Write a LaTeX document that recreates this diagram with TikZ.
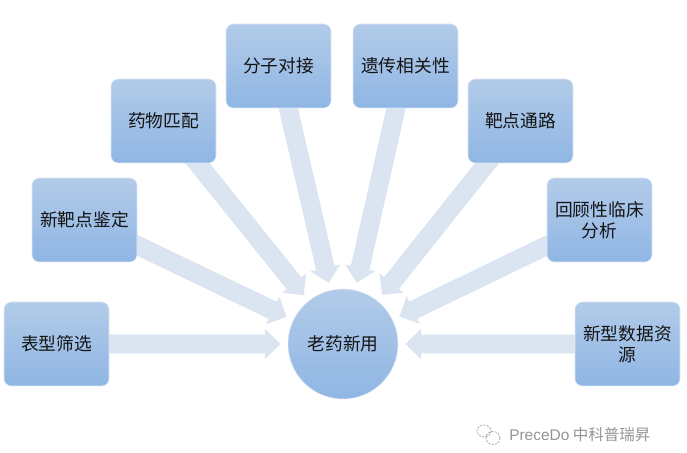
\documentclass[tikz,border=0pt]{standalone}
\usepackage{fontspec}
\setmainfont{Noto Sans CJK SC}
\newfontfamily\latinwm{Liberation Sans}
\usetikzlibrary{calc,backgrounds}
\definecolor{boxtop}{HTML}{B2CBE9}
\definecolor{boxbot}{HTML}{8FB6E4}
\definecolor{arrowcol}{HTML}{DBE5F2}
\tikzset{
  x=0.75pt,y=-0.75pt,
  txt/.style={font=\fontsize{13.3pt}{16pt}\selectfont,text=black!92,align=center},
  topic/.style={txt,rectangle,rounded corners=5.5pt,minimum width=78.75pt,minimum height=63pt,
    text width=72pt,inner sep=0pt,draw=boxtop!40,line width=.4pt,top color=boxtop,bottom color=boxbot},
  hub/.style={txt,circle,minimum size=82.5pt,inner sep=0pt,draw=boxtop!40,line width=.4pt,top color=boxtop,bottom color=boxbot},
  feeder/.style={fill=arrowcol,draw=none},
}
\begin{document}
\begin{tikzpicture}
\useasboundingbox (0,0) rectangle (687,453);
\node[hub] (hub) at (343,344) {老药新用};
\node[topic] (a) at (56.5,344) {表型筛选};
\node[topic] (b) at (84.5,220) {新靶点鉴定};
\node[topic] (c) at (163.5,121) {药物匹配};
\node[topic] (d) at (278.5,66) {分子对接};
\node[topic] (e) at (405.5,66) {遗传相关性};
\node[topic] (f) at (520.5,121) {靶点通路};
\node[topic] (g) at (599.5,220) {回顾性临床\\分析};
\node[topic] (h) at (627.5,344) {新型数据资\\源};
\begin{scope}[on background layer]
\foreach \s in {a,b,c,d,e,f,g,h} {
  \coordinate (tip) at ($(hub)!47pt!(\s)$);
  \coordinate (neck) at ($(hub)!58.5pt!(\s)$);
  \draw[feeder]
    ($(\s)!7.1pt!90:(hub)$) -- ($(neck)!7.1pt!90:(hub)$) -- ($(neck)!11.5pt!90:(hub)$)
    -- (tip) -- ($(neck)!11.5pt!-90:(hub)$) -- ($(neck)!7.1pt!-90:(hub)$)
    -- ($(\s)!7.1pt!-90:(hub)$) -- cycle;
}
\end{scope}
\node[font=\fontsize{11.6pt}{13pt}\selectfont,text=black!42,anchor=west,inner sep=0pt] (wm) at (509,435) {{\latinwm PreceDo} 中科普瑞昇};
\draw[black!35,line width=.6pt,dash pattern=on 1.5pt off 1pt] (484,431) ellipse (7 and 6);
\draw[black!35,line width=.6pt,dash pattern=on 1.5pt off 1pt] (493,438) ellipse (7 and 6.5);
\end{tikzpicture}
\end{document}
